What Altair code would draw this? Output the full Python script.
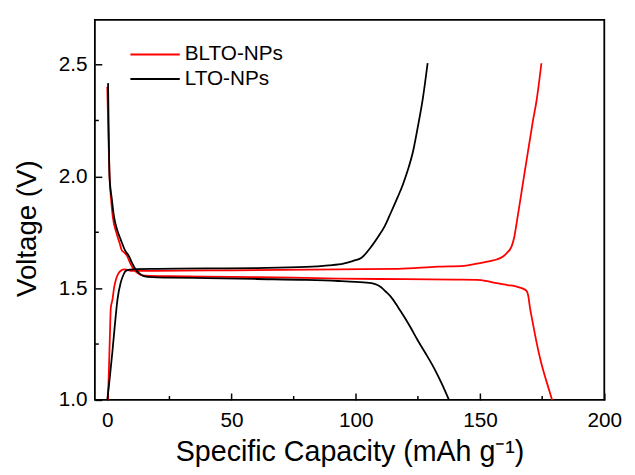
import altair as alt
import pandas as pd

# ---------------- data ----------------
series_names = ["BLTO-NPs", "LTO-NPs"]
series_colors = ["#ff0000", "#000000"]

# LTO-NPs (black) discharge
lto_dis_x = [0.3, 0.5, 0.9, 1.8, 2.7, 4.0, 5.4, 7.1, 8.7, 10.0, 11.4, 13.0, 14.7, 18.0,
             25.0, 40.0, 60.0, 80.0, 93.0, 100.0, 106.3, 108.5, 110.3, 112.0, 114.3,
             117.0, 119.6, 122.0, 124.9, 128.0, 131.6, 134.5, 137.5]
lto_dis_y = [2.417, 2.26, 2.0, 1.90, 1.82, 1.76, 1.717, 1.67, 1.643, 1.612, 1.584, 1.565,
             1.554, 1.549, 1.547, 1.545, 1.541, 1.537, 1.532, 1.528, 1.522, 1.515, 1.503,
             1.485, 1.459, 1.415, 1.37, 1.325, 1.267, 1.21, 1.14, 1.075, 1.0]

# LTO-NPs (black) charge
lto_chg_x = [0.0, 1.0, 2.0, 3.0, 4.1, 5.4, 6.5, 7.4, 9.0, 12.0, 20.0, 40.0, 60.0, 80.0,
             89.0, 95.0, 99.0, 102.3, 106.3, 109.0, 111.6, 114.0, 116.9, 119.0, 120.9,
             123.0, 124.9, 127.0, 128.9]
lto_chg_y = [1.0, 1.1, 1.21, 1.33, 1.45, 1.525, 1.56, 1.577, 1.583, 1.585, 1.586, 1.588,
             1.59, 1.595, 1.602, 1.61, 1.622, 1.636, 1.687, 1.73, 1.776, 1.835, 1.908,
             1.965, 2.027, 2.11, 2.218, 2.35, 2.506]

# BLTO-NPs (red) discharge
blto_dis_x = [0.0, 0.4, 0.9, 1.5, 2.2, 3.6, 5.0, 5.8, 6.8, 8.0, 9.3, 10.7, 12.3, 14.0,
              17.0, 25.0, 50.0, 75.0, 93.0, 120.0, 140.0, 148.8, 153.0, 156.7, 161.0,
              164.7, 166.8, 168.7, 169.5, 170.0, 171.3, 172.7, 174.3, 176.0, 177.5, 179.0]
blto_dis_y = [2.40, 2.20, 2.0, 1.90, 1.82, 1.75, 1.70, 1.67, 1.66, 1.643, 1.61, 1.584,
              1.566, 1.557, 1.555, 1.554, 1.55, 1.547, 1.543, 1.54, 1.538, 1.537, 1.531,
              1.522, 1.514, 1.507, 1.50, 1.488, 1.46, 1.42, 1.34, 1.26, 1.18, 1.11, 1.055, 1.0]

# BLTO-NPs (red) charge
blto_chg_x = [0.2, 0.5, 1.0, 1.4, 2.1, 2.7, 3.5, 4.7, 5.7, 6.7, 8.0, 10.0, 15.0, 30.0,
              50.0, 70.0, 93.0, 117.0, 133.0, 143.5, 148.8, 154.1, 156.7, 159.4, 161.0,
              162.7, 163.8, 164.7, 166.0, 167.4, 168.7, 170.0, 171.3, 172.7, 174.7]
blto_chg_y = [1.0, 1.08, 1.27, 1.41, 1.45, 1.50, 1.54, 1.57, 1.58, 1.584, 1.582, 1.577,
              1.577, 1.578, 1.58, 1.582, 1.584, 1.586, 1.596, 1.60, 1.61, 1.621, 1.628,
              1.643, 1.66, 1.687, 1.73, 1.79, 1.88, 1.98, 2.07, 2.16, 2.25, 2.336, 2.506]

x_major = [0, 50, 100, 150, 200]
x_minor = [25, 75, 125, 175]
y_major = [1.0, 1.5, 2.0, 2.5]
y_minor = [1.25, 1.75, 2.25]

x_title = "Specific Capacity (mAh g\u207b\u00b9)"
y_title = "Voltage (V)"


def curve(series, branch, xs, ys):
    return pd.DataFrame({
        "series": series,
        "curve": f"{series} {branch}",
        "x": xs,
        "y": ys,
        "i": list(range(len(xs))),
    })


df = pd.concat([
    curve("BLTO-NPs", "discharge", blto_dis_x, blto_dis_y),
    curve("BLTO-NPs", "charge", blto_chg_x, blto_chg_y),
    curve("LTO-NPs", "discharge", lto_dis_x, lto_dis_y),
    curve("LTO-NPs", "charge", lto_chg_x, lto_chg_y),
], ignore_index=True)

# ---------------- chart ----------------
W, H = 516, 385
FONT = "Liberation Sans"
MAJ = 7
MIN = 4

x_scale = alt.Scale(domain=[-5, 200], nice=False, zero=False)
y_scale = alt.Scale(domain=[1.0, 2.7], nice=False, zero=False)

x_axis = alt.Axis(
    values=x_major, format="d", title=x_title, grid=False, domain=False,
    tickSize=MAJ, offset=-MAJ, tickColor="black", tickWidth=1.5,
    labelPadding=10, titlePadding=7, labelFlush=False, labelOverlap=False,
    labelFontSize=21, labelFont=FONT, labelColor="black",
    titleFontSize=29, titleFont=FONT, titleFontWeight="normal", titleColor="black")
y_axis = alt.Axis(
    values=y_major, format=".1f", title=y_title, grid=False, domain=False,
    tickSize=MAJ, offset=-MAJ, tickColor="black", tickWidth=1.5,
    labelPadding=8, titlePadding=17, titleY=211, labelFlush=False, labelOverlap=False,
    labelFontSize=21, labelFont=FONT, labelColor="black",
    titleFontSize=28, titleFont=FONT, titleFontWeight="normal", titleColor="black")

lines = alt.Chart(df).mark_line(strokeWidth=1.8, clip=True, interpolate="monotone").encode(
    x=alt.X("x:Q", scale=x_scale, axis=x_axis, title=x_title),
    y=alt.Y("y:Q", scale=y_scale, axis=y_axis, title=y_title),
    color=alt.Color("series:N",
                    scale=alt.Scale(domain=series_names, range=series_colors),
                    legend=alt.Legend(title=None, orient="none", legendX=50, legendY=24,
                                      symbolType="M-2.5,0H2.5", symbolSize=400,
                                      symbolStrokeWidth=2, labelOffset=19, rowPadding=4,
                                      padding=0, labelFontSize=21, labelFont=FONT,
                                      labelColor="black")),
    detail="curve:N",
    order="i:Q",
)

minor_x = alt.Chart(pd.DataFrame({"x": x_minor})).mark_rule(
    color="black", strokeWidth=1.5).encode(
    x=alt.X("x:Q", scale=x_scale, axis=x_axis, title=x_title),
    y=alt.value(H),
    y2=alt.value(H - MIN),
)

minor_y = alt.Chart(pd.DataFrame({"y": y_minor})).mark_rule(
    color="black", strokeWidth=1.5).encode(
    y=alt.Y("y:Q", scale=y_scale, axis=y_axis, title=y_title),
    x=alt.value(0),
    x2=alt.value(MIN),
)

chart = alt.layer(lines, minor_x, minor_y).properties(
    width=W, height=H,
    padding={"left": 5, "top": 9, "right": 5, "bottom": 5},
    background="white",
).configure_view(stroke="black", strokeWidth=1.8)

chart.save("out.html", embed_options={"renderer": "svg", "actions": False})
